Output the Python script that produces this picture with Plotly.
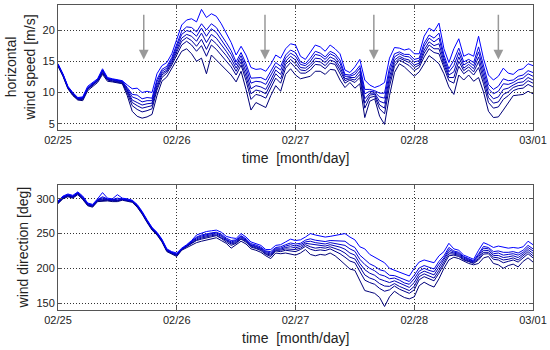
import pandas as pd
import plotly.graph_objects as go
from plotly.subplots import make_subplots

# hourly time stamps 02/25 00:00 -> 03/01 00:00
times = pd.date_range("2010-02-25 00:00", periods=97, freq="h")

# ---- horizontal wind speed [m/s], several heights (low -> high envelope) ----
speed_lo = [14.2,12.6,10.6,9.5,8.8,8.7,10.3,11.0,11.6,12.9,11.8,11.7,11.6,11.4,9.5,7.0,6.2,5.9,6.1,6.5,
            9.5,11.8,12.5,13.8,15.2,16.6,17.0,16.2,15.0,15.5,13.0,16.0,15.2,14.4,13.6,12.8,11.7,13.4,10.5,7.2,
            8.4,8.0,7.6,9.5,11.1,10.2,12.9,13.8,12.8,12.2,12.4,12.6,13.4,13.4,12.9,13.7,13.6,12.0,10.8,11.6,
            10.7,11.4,6.0,8.6,9.0,6.2,4.9,9.5,13.2,14.6,14.1,13.4,12.6,13.3,14.6,15.9,15.3,14.6,13.0,10.9,
            9.7,12.8,12.0,12.8,11.8,12.4,10.1,7.0,6.0,6.1,7.2,8.3,9.5,9.6,9.7,10.2,9.8]
speed_m1 = [14.3,12.7,10.7,9.6,8.9,8.9,10.5,11.1,11.8,13.1,12.0,11.8,11.7,11.5,9.9,7.9,7.3,6.9,7.1,7.4,
            10.4,12.4,13.1,14.4,16.0,17.6,18.2,17.6,16.6,17.5,15.8,17.6,16.9,16.0,15.1,14.1,12.8,14.4,11.9,8.9,
            9.7,9.5,9.1,10.8,12.3,11.5,13.9,14.8,14.0,13.1,13.1,13.6,14.5,14.4,13.8,14.7,14.5,13.0,11.5,12.0,
            11.6,12.4,7.5,9.2,9.4,7.4,6.6,11.0,14.2,15.2,14.8,14.3,13.5,14.0,15.7,17.0,16.4,16.2,14.0,11.9,
            11.5,14.2,13.0,13.6,12.8,14.0,11.4,8.4,7.5,7.7,8.9,9.5,10.3,10.6,10.7,11.3,10.9]
speed_m12 = [14.4,12.8,10.8,9.7,9.0,9.0,10.6,11.2,11.9,13.2,12.1,11.9,11.8,11.6,10.2,8.4,7.9,7.5,7.7,7.9,
             10.8,12.8,13.4,14.7,16.5,18.2,18.8,18.3,17.4,18.5,16.9,18.5,17.8,16.9,15.9,14.8,13.4,14.9,12.6,9.8,
             10.4,10.2,9.8,11.4,13.0,12.2,14.5,15.3,14.6,13.6,13.5,14.1,15.0,14.9,14.3,15.2,14.9,13.6,11.9,12.2,
             12.0,12.9,8.3,9.6,9.7,8.0,7.5,11.8,14.7,15.5,15.1,14.8,14.0,14.4,16.3,17.6,17.0,17.0,14.5,12.4,
             12.4,15.0,13.5,14.1,13.3,14.9,12.1,9.2,8.3,8.5,9.7,10.1,10.8,11.1,11.2,11.9,11.5]
speed_m2 = [14.4,12.8,10.8,9.8,9.0,9.0,10.6,11.3,11.9,13.4,12.1,12.0,11.8,11.7,10.4,8.8,8.4,8.0,8.2,8.3,
            11.2,13.1,13.6,15.0,16.9,18.7,19.3,19.0,18.2,19.5,18.0,19.3,18.7,17.7,16.6,15.4,13.9,15.4,13.3,10.6,
            11.1,10.9,10.5,12.0,13.6,12.9,15.0,15.8,15.2,14.0,13.9,14.5,15.5,15.4,14.8,15.7,15.3,14.1,12.2,12.4,
            12.4,13.4,9.0,9.9,9.9,8.6,8.3,12.5,15.2,15.8,15.4,15.2,14.4,14.7,16.8,18.1,17.5,17.8,15.0,12.8,
            13.3,15.7,13.9,14.5,13.8,15.7,12.7,9.9,9.0,9.3,10.5,10.7,11.2,11.6,11.7,12.4,12.0]
speed_m23 = [14.5,12.9,10.9,9.9,9.1,9.1,10.7,11.4,12.0,13.5,12.2,12.1,11.9,11.8,10.6,9.3,9.0,8.5,8.7,8.7,
             11.7,13.4,13.9,15.3,17.3,19.3,19.9,19.7,19.0,20.3,19.0,20.2,19.6,18.5,17.3,16.1,14.4,15.9,14.0,11.5,
             11.8,11.7,11.3,12.7,14.2,13.6,15.5,16.3,15.8,14.5,14.3,15.0,16.1,15.9,15.3,16.2,15.8,14.7,12.6,12.6,
             12.9,13.9,9.8,10.2,10.1,9.3,9.1,13.3,15.7,16.2,15.8,15.7,14.9,15.1,17.4,18.7,18.1,18.7,15.5,13.3,
             14.3,16.4,14.4,14.9,14.3,16.5,13.4,10.6,9.8,10.2,11.4,11.3,11.6,12.1,12.3,13.0,12.6]
speed_m3 = [14.5,12.9,10.9,9.9,9.1,9.2,10.8,11.5,12.1,13.6,12.3,12.1,12.0,11.8,10.8,9.7,9.6,9.0,9.2,9.1,
            12.1,13.7,14.2,15.6,17.7,19.8,20.5,20.4,19.7,21.0,20.0,21.0,20.4,19.3,18.0,16.7,14.9,16.4,14.6,12.3,
            12.4,12.4,12.0,13.3,14.8,14.2,16.0,16.8,16.4,14.9,14.6,15.5,16.6,16.3,15.7,16.6,16.2,15.2,12.9,12.8,
            13.3,14.3,10.5,10.5,10.3,9.9,9.9,14.0,16.2,16.5,16.1,16.1,15.3,15.5,17.9,19.2,18.7,19.5,16.0,13.8,
            15.2,17.1,14.9,15.3,14.8,17.3,14.1,11.3,10.5,11.0,12.2,11.9,12.0,12.6,12.8,13.5,13.2]
speed_hi = [14.6,13.0,11.0,10.0,9.2,9.3,11.0,11.6,12.2,13.8,12.4,12.2,12.1,11.9,11.2,10.6,10.7,10.0,10.2,10.0,
            13.0,14.3,14.8,16.2,18.5,20.8,21.6,21.8,21.3,23.3,22.0,22.6,22.2,21.0,19.5,18.0,16.0,17.4,16.0,14.0,
            13.7,13.8,13.4,14.5,16.0,15.5,17.0,17.8,17.6,15.8,15.3,16.4,17.6,17.3,16.6,17.6,17.0,16.2,13.6,13.2,
            14.1,15.3,12.0,11.2,10.8,11.1,11.6,15.5,17.2,17.1,16.8,17.0,16.2,16.2,19.0,20.3,19.8,21.1,17.0,14.8,
            17.0,18.6,15.8,16.2,15.8,19.0,15.4,12.8,12.0,12.6,13.9,13.1,12.9,13.6,13.8,14.6,14.3]

# ---- wind direction [deg] ----
dir_lo = [293,300,303,301,306,299,290,288,296,297,297,296,296,298,297,295,288,278,266,255,
          248,238,224,220,217,226,230,234,237,239,241,243,244,240,236,229,234,239,235,228,
          226,223,218,214,222,221,222,220,219,222,227,220,218,220,219,222,218,212,205,199,
          197,183,168,166,164,158,145,159,167,162,158,156,159,175,180,176,173,185,200,212,
          216,214,210,207,205,207,215,217,207,205,200,204,206,202,210,215,209]
dir_m1 = [294,301,304,302,307,300,291,289,297,298,298,297,297,299,298,296,289,279,267,256,
          249,239,225,221,218,227,231,235.5,240,242,244,246,247,243,238.5,233,236,242,237.5,230.5,
          228.5,225.5,220,217,225,224,226,225.5,224,227,231.5,227.5,225.5,226.5,225.5,228,225,221,216,210.5,
          208,195,183,179.5,177,171,167,169,174.5,170,166.5,164,169,183.5,188,184.5,182,193,206,218,
          219,217,212,209,207,212,220.5,221,213,212,208,210,212,209,215,221,215]
dir_m12 = [294.5,301.5,304.5,302.5,307.5,300.5,291.5,289.5,297.5,299,298.5,297.5,297.5,299,298,296,289.5,279.5,267.5,256.5,
           249.5,239.5,225.5,221.5,219,227,231.5,236,241,243.5,245.5,247,248,244.5,240,235,237,243,239,232,
           230,227,221,219,226,226,228,228,227,229,234,231,229,230,229,231,229,226,222,216,
           213.5,201,190.5,186,183.5,178,174.5,174,178,174,171,168,174,188,192,189,186,197,209,221,
           220.5,218.5,213,210,208,214,223,223,216,215,212,213,215,212,218,224,218]
dir_m2 = [295,302,305,303,308,301,292,290,298,300,299,298,298,299.5,298.5,296.5,290,280,268,257,
          250,240,226,222,219.5,227.5,232,237,242.5,245,247,248.5,249.5,246,241,236.5,238.5,244.5,240,233,
          231,228,222.5,220.5,227.5,227.5,230,231,229.5,231.5,236,235,233,233,232,234,232.5,230.5,227.5,222,
          219,207,198,193,190,184.5,182,179.5,182,178.5,175,172.5,179.5,192,196,193,190.5,201.5,212,224,
          222,220,214.5,211.5,209,216.5,226,225.5,218.5,218.5,215.5,216.5,218,215.5,220.5,227,221.5]
dir_m23 = [295.5,302.5,305.5,303.5,308.5,302,292.5,290.5,298.5,301.5,299.5,298.5,299.5,300,299,297,290.5,280.5,268.5,257.5,
           250.5,240.5,226.5,222.5,220,228,232.5,238,244,246.5,248.5,250,251,247.5,242,238,240,246,241,234,
           232,229,224,222,229,229,232,234,232,234,238,239,237,236,235,237,236,235,233,228,
           224.5,213,205.5,200,196.5,191,189,185,186,183,179,177,185,196,200,197,195,206,215,227,
           223.5,221.5,216,213,210,219,229,228,221,222,219,220,221,219,223,230,225]
dir_m3 = [296,303,306,304,309,303,293,291,299,303,300,299,301,300,299,297,291,281,269,258,
          251,241,227,223,221,228,233,238.5,245,248,250,251,252,249,243.5,240,241,247,242.5,235.5,
          233.5,230.5,225,224,230,231,234,236.5,235,236,240.5,242.5,240.5,239.5,238.5,240,240,240,239,233.5,
          230,219,213,206.5,203,198,196,190,189.5,187,183.5,181,190,200.5,204,201.5,199,210,218,230,
          225,223,217,214,211,221,231.5,230,224,225,223,223,224,222,226,233,228]
dir_hi = [297,304,307,305,310,304,294,292,300,309,301,300,306,301,300,298,292,282,270,259,
          252,242,228,224,222,229,234,240,248,251,253,254,255,252,246,244,243,250,245,238,
          236,233,227,227,233,234,238,242,240,241,245,250,248,246,245,246,247,249,250,245,
          241,231,228,220,216,211,208,200,197,195,192,189,200,209,212,210,208,218,224,236,
          228,226,219,216,213,226,237,234,230,232,231,229,230,229,231,239,234]

speed_series = [speed_lo, speed_m1, speed_m12, speed_m2, speed_m23, speed_m3, speed_hi]
dir_series = [dir_lo, dir_m1, dir_m12, dir_m2, dir_m23, dir_m3, dir_hi]
line_colors = ["#000078", "#00008c", "#0000a0", "#0000b6", "#0000cc", "#0000e2", "#0000ff"]

arrow_times = ["2010-02-25 17:20", "2010-02-26 17:50", "2010-02-27 15:50", "2010-02-28 17:00"]
arrow_head_y = 15.3
arrow_tail_y = 22.7

x_ticks = pd.date_range("2010-02-25", "2010-03-01", freq="D")
x_ticktext = ["02/25", "02/26", "02/27", "02/28", "03/01"]

FONT = "Liberation Sans, Arial, Helvetica, sans-serif"
TXT = "#222222"

fig = make_subplots(rows=2, cols=1, shared_xaxes=False, vertical_spacing=0.0)

for s, c in zip(speed_series, line_colors):
    fig.add_trace(go.Scatter(x=times, y=s, mode="lines", line=dict(color=c, width=1),
                             showlegend=False, hoverinfo="skip"), row=1, col=1)
for s, c in zip(dir_series, line_colors):
    fig.add_trace(go.Scatter(x=times, y=s, mode="lines", line=dict(color=c, width=1),
                             showlegend=False, hoverinfo="skip"), row=2, col=1)

axis_common = dict(showline=True, linecolor="#555555", linewidth=1, mirror="ticks",
                   ticks="inside", ticklen=4, tickcolor="#555555",
                   showgrid=True, gridcolor="#333333", griddash="1px,2px", gridwidth=1,
                   zeroline=False, tickfont=dict(family=FONT, size=11, color=TXT))

xcommon = dict(axis_common, type="date", range=["2010-02-25", "2010-03-01"],
               tickvals=list(x_ticks), ticktext=x_ticktext)

fig.update_layout(
    width=550, height=350,
    margin=dict(l=58, r=17, t=5, b=40, autoexpand=False),
    plot_bgcolor="white", paper_bgcolor="white",
    xaxis=dict(xcommon, domain=[0, 1]),
    xaxis2=dict(xcommon, domain=[0, 1]),
    yaxis=dict(axis_common, domain=[0.590, 1.0], range=[4, 24], tickvals=[5, 10, 15, 20]),
    yaxis2=dict(axis_common, domain=[0.0, 0.410], range=[140, 320], tickvals=[150, 200, 250, 300]),
)

title_font = dict(family=FONT, size=14, color=TXT)
# axis titles
fig.add_annotation(text="horizontal<br>wind speed [m/s]", xref="paper", yref="paper",
                   x=0, y=0.795, xshift=-38, textangle=-90, showarrow=False,
                   xanchor="center", yanchor="middle", font=title_font)
fig.add_annotation(text="wind direction [deg]", xref="paper", yref="paper",
                   x=0, y=0.205, xshift=-35, textangle=-90, showarrow=False,
                   xanchor="center", yanchor="middle", font=title_font)
fig.add_annotation(text="time  [month/day]", xref="paper", yref="paper",
                   x=0.5, y=0.498, showarrow=False, xanchor="center", yanchor="middle",
                   font=title_font)
fig.add_annotation(text="time  [month/day]", xref="paper", yref="paper",
                   x=0.5, y=-0.092, showarrow=False, xanchor="center", yanchor="middle",
                   font=title_font)

for t in arrow_times:
    fig.add_annotation(x=t, y=arrow_head_y, ax=t, ay=arrow_tail_y, xref="x", yref="y",
                       axref="x", ayref="y", showarrow=True, arrowhead=2, arrowsize=1.3,
                       arrowwidth=1.5, arrowcolor="#999999", text="")

fig.write_html("out.html", config={"displayModeBar": False},
               post_script="document.body.style.margin='0';")
